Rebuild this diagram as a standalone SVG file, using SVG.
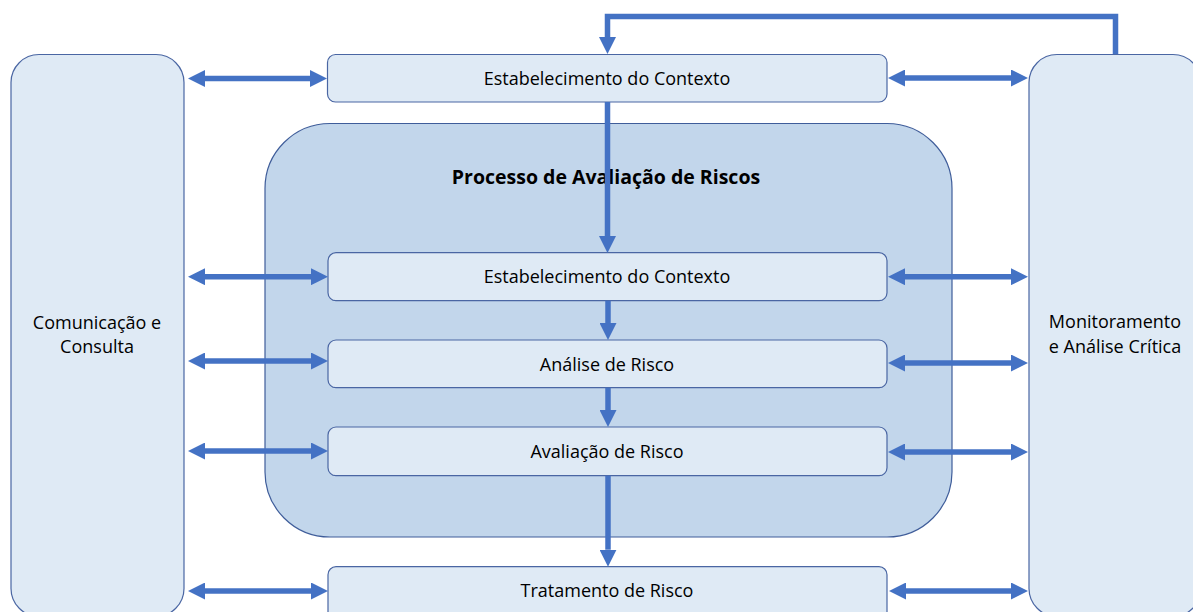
<svg xmlns="http://www.w3.org/2000/svg" width="1193" height="612" viewBox="0 0 1193 612">
  <style>
    .light { fill: #DFEAF5; stroke: #4A66A3; stroke-width: 1.2; }
    .cont { fill: #C2D6EB; stroke: #3F5D9A; stroke-width: 1.2; }
    .lbl { font-family: "Open Sans", "Noto Sans", sans-serif; font-size: 18px; fill: #000; text-anchor: middle; }
    .ttl { font-family: "Open Sans", "Noto Sans", sans-serif; font-size: 19.5px; font-weight: bold; fill: #000; text-anchor: middle; }
    .arr { stroke: #4472C4; stroke-width: 5.5; fill: none; stroke-linejoin: miter; }
  </style>
  <defs>
    <marker id="head" markerUnits="userSpaceOnUse" markerWidth="17" markerHeight="17" refX="0" refY="8.5" orient="auto-start-reverse" viewBox="0 0 17 17">
      <path d="M0,0 L17,8.5 L0,17 z" fill="#4472C4"/>
    </marker>
  </defs>

  <g id="comunicacao">
    <rect class="light" x="11" y="54.5" width="173" height="562" rx="28"/>
    <text class="lbl" x="97" y="329">Comunicação e</text>
    <text class="lbl" x="97" y="353">Consulta</text>
  </g>
  <g id="monitoramento">
    <rect class="light" x="1029" y="54.5" width="172" height="562" rx="28"/>
    <text class="lbl" x="1115" y="328">Monitoramento</text>
    <text class="lbl" x="1115" y="353">e Análise Crítica</text>
  </g>
  <g id="contexto-top">
    <rect class="light" x="327.5" y="54.5" width="559.5" height="47.5" rx="8"/>
    <text class="lbl" x="607" y="85">Estabelecimento do Contexto</text>
  </g>
  <g id="processo">
    <rect class="cont" x="265" y="123.5" width="687" height="413.5" rx="65"/>
    <text class="ttl" x="606" y="184">Processo de Avaliação de Riscos</text>
  </g>
  <g id="contexto-inner">
    <rect class="light" x="328" y="252.7" width="559" height="48" rx="8"/>
    <text class="lbl" x="607" y="283.3">Estabelecimento do Contexto</text>
  </g>
  <g id="analise">
    <rect class="light" x="328" y="340" width="559" height="47.7" rx="8"/>
    <text class="lbl" x="607" y="370.7">Análise de Risco</text>
  </g>
  <g id="avaliacao">
    <rect class="light" x="328" y="427" width="559" height="48.7" rx="8"/>
    <text class="lbl" x="607" y="458.3">Avaliação de Risco</text>
  </g>
  <g id="tratamento">
    <rect class="light" x="328" y="566.7" width="559" height="60" rx="8"/>
    <text class="lbl" x="607" y="596.7">Tratamento de Risco</text>
  </g>

  <g id="connectors">
    <line class="arr" x1="205" y1="78.5" x2="310" y2="78.5" marker-start="url(#head)" marker-end="url(#head)"/>
    <line class="arr" x1="205" y1="276.7" x2="311" y2="276.7" marker-start="url(#head)" marker-end="url(#head)"/>
    <line class="arr" x1="205" y1="361" x2="311" y2="361" marker-start="url(#head)" marker-end="url(#head)"/>
    <line class="arr" x1="205" y1="451" x2="311" y2="451" marker-start="url(#head)" marker-end="url(#head)"/>
    <line class="arr" x1="205" y1="591" x2="311" y2="591" marker-start="url(#head)" marker-end="url(#head)"/>
    <line class="arr" x1="905" y1="78" x2="1011" y2="78" marker-start="url(#head)" marker-end="url(#head)"/>
    <line class="arr" x1="905" y1="276.7" x2="1011" y2="276.7" marker-start="url(#head)" marker-end="url(#head)"/>
    <line class="arr" x1="905" y1="363" x2="1011" y2="363" marker-start="url(#head)" marker-end="url(#head)"/>
    <line class="arr" x1="905" y1="452" x2="1011" y2="452" marker-start="url(#head)" marker-end="url(#head)"/>
    <line class="arr" x1="906" y1="591" x2="1011" y2="591" marker-start="url(#head)" marker-end="url(#head)"/>
    <path class="arr" d="M1115.5,54 V16.5 H607.5 V37" marker-end="url(#head)"/>
    <line class="arr" x1="607.5" y1="102" x2="607.5" y2="236" marker-end="url(#head)"/>
    <line class="arr" x1="608" y1="300.7" x2="608" y2="323" marker-end="url(#head)"/>
    <line class="arr" x1="608" y1="387.7" x2="608" y2="410" marker-end="url(#head)"/>
    <line class="arr" x1="608" y1="475.7" x2="608" y2="549.7" marker-end="url(#head)"/>
  </g>
</svg>
